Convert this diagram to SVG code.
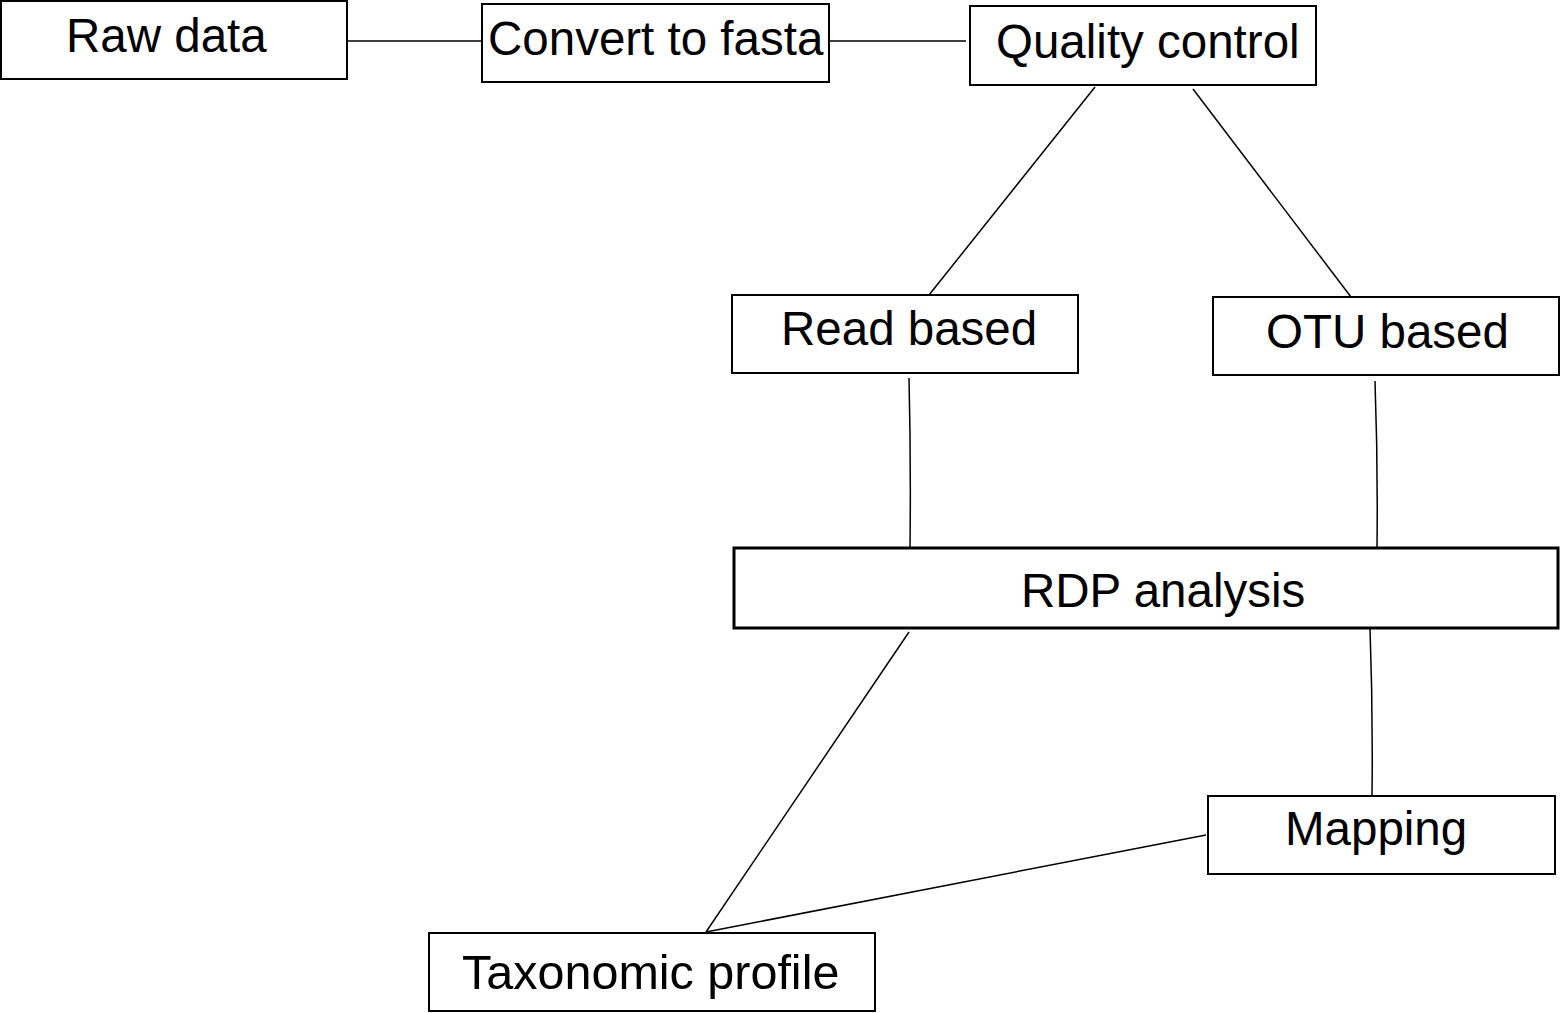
<svg xmlns="http://www.w3.org/2000/svg" width="1561" height="1013" viewBox="0 0 1561 1013">
<style>
.box{fill:#fff;stroke:#000;stroke-width:2}
.thick{stroke-width:3}
.lbl{font-family:"Liberation Sans",Arial,sans-serif;font-size:47.5px;fill:#000}
.con{fill:none;stroke:#000;stroke-width:1.5}
</style>
<rect width="1561" height="1013" fill="#fff"/>
<g id="connectors">
<path class="con" d="M348,41 L482,41"/>
<path class="con" d="M830,41 L966,41"/>
<path class="con" d="M1095,87 L929,295"/>
<path class="con" d="M1193,89 L1351,297"/>
<path class="con" d="M909,378 Q911,460 910,548"/>
<path class="con" d="M1375,381 Q1378,465 1377,548"/>
<path class="con" d="M909,632 L706,932"/>
<path class="con" d="M1370,628 Q1373,710 1372,796"/>
<path class="con" d="M1206,835 L706,932"/>
</g>
<g id="raw"><rect class="box" x="1" y="1" width="346" height="78"/><text class="lbl" x="66" y="52">Raw data</text></g>
<g id="fasta"><rect class="box" x="482" y="4" width="347" height="78"/><text class="lbl" x="488" y="55">Convert to fasta</text></g>
<g id="qc"><rect class="box" x="970" y="6" width="346" height="79"/><text class="lbl" x="996" y="58">Quality control</text></g>
<g id="read"><rect class="box" x="732" y="295" width="346" height="78"/><text class="lbl" x="781" y="345">Read based</text></g>
<g id="otu"><rect class="box" x="1213" y="297" width="346" height="78"/><text class="lbl" x="1266" y="348">OTU based</text></g>
<g id="rdp"><rect class="box thick" x="734" y="548" width="824" height="80"/><text class="lbl" x="1021" y="607">RDP analysis</text></g>
<g id="mapping"><rect class="box" x="1208" y="796" width="347" height="78"/><text class="lbl" x="1285" y="845">Mapping</text></g>
<g id="taxo"><rect class="box" x="429" y="933" width="446" height="78"/><text class="lbl" x="462" y="989" style="font-size:48.5px">Taxonomic profile</text></g>
</svg>
